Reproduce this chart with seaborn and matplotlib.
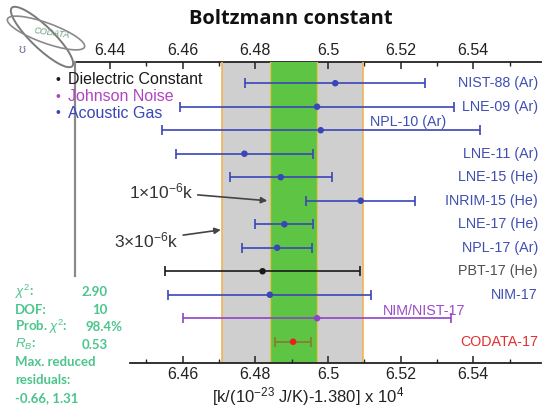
"""Boltzmann constant determinations vs CODATA-17 (recreated figure)."""

import matplotlib

matplotlib.use("Agg")

import matplotlib.pyplot as plt
import matplotlib.transforms as mtransforms
import numpy as np
import pandas as pd
import seaborn as sns
from matplotlib.patches import Ellipse


# --- data ------------------------------------------------------------------
LABELS = [
    "NIST-88 (Ar)", "LNE-09 (Ar)", "NPL-10 (Ar)", "LNE-11 (Ar)", "LNE-15 (He)",
    "INRIM-15 (He)", "LNE-17 (He)", "NPL-17 (Ar)", "PBT-17 (He)", "NIM-17",
    "NIM/NIST-17", "CODATA-17",
]
VALUES = [6.502, 6.497, 6.498, 6.477, 6.487, 6.509, 6.488, 6.486, 6.482, 6.484, 6.497, 6.4904]
UNCERT = [0.0248, 0.0376, 0.0437, 0.0189, 0.0141, 0.0150, 0.0080, 0.0097, 0.0268, 0.0279, 0.0369, 0.0050]
METHOD = ["Acoustic Gas"] * 8 + ["Dielectric Constant", "Acoustic Gas", "Johnson Noise", "CODATA"]

BAND_1E6 = (6.4841, 6.4970)   # 1x10^-6 k
BAND_3E6 = (6.4709, 6.5097)   # 3x10^-6 k

TOP_TICKS = [6.44, 6.46, 6.48, 6.50, 6.52, 6.54]
TOP_TICK_LABELS = ["6.44", "6.46", "6.48", "6.5", "6.52", "6.54"]
BOTTOM_TICKS = [6.46, 6.48, 6.50, 6.52, 6.54]
BOTTOM_TICK_LABELS = ["6.46", "6.48", "6.5", "6.52", "6.54"]

STATS = [
    (r"$\chi^2$:", "2.90"),
    ("DOF:", "10"),
    (r"Prob. $\chi^2$:", "98.4%"),
    (r"$R_B$:", "0.53"),
]
STATS_NOTE = ["Max. reduced", "residuals:", "-0.66, 1.31"]

LEGEND_ORDER = ["Dielectric Constant", "Johnson Noise", "Acoustic Gas"]

COLORS = {
    "Acoustic Gas": "#3a46b8",
    "Dielectric Constant": "#1a1a1a",
    "Johnson Noise": "#8e44c8",
    "CODATA": "#e82020",
}
BAR_COLORS = {
    "Acoustic Gas": "#3a46b8",
    "Dielectric Constant": "#1a1a1a",
    "Johnson Noise": "#8e44c8",
    "CODATA": "#8a7a30",
}
LABEL_COLORS = {
    "Acoustic Gas": "#3f4fb2",
    "Dielectric Constant": "#505050",
    "Johnson Noise": "#9a4cc8",
    "CODATA": "#e03030",
}
LEGEND_COLORS = {
    "Dielectric Constant": "#1a1a1a",
    "Johnson Noise": "#b044c0",
    "Acoustic Gas": "#3a46b8",
}
STAT_GREEN = "#4cc48c"

FONT = ["Liberation Sans", "DejaVu Sans"]


def main() -> None:
    sns.set_theme(style="white")
    plt.rcParams["font.family"] = FONT
    plt.rcParams["mathtext.fontset"] = "custom"
    plt.rcParams["mathtext.rm"] = "Liberation Sans"
    plt.rcParams["mathtext.it"] = "Liberation Sans:italic"

    df = pd.DataFrame({"label": LABELS, "value": VALUES, "unc": UNCERT, "method": METHOD})
    df["row"] = np.arange(len(df))

    fig = plt.figure(figsize=(5.44, 4.11), dpi=100)
    ax = fig.add_axes([0.138, 0.117, 0.857, 0.732])
    ax.set_xlim(6.4304, 6.5587)
    ax.set_ylim(11.9, -0.9)

    # uncertainty bands
    ax.axvspan(*BAND_3E6, color="#cfcfcf", zorder=0, lw=0)
    ax.axvspan(*BAND_1E6, color="#5ec443", zorder=0.5, lw=0)
    for x in BAND_3E6:
        ax.axvline(x, color="#f0b452", lw=1.2, zorder=0.6)
    for x in BAND_1E6:
        ax.axvline(x, color="#e2c25a", lw=1.0, zorder=0.6)

    # error bars
    for _, r in df.iterrows():
        ax.errorbar(r["value"], r["row"], xerr=r["unc"], fmt="none",
                    ecolor=BAR_COLORS[r["method"]], elinewidth=1.2,
                    capsize=3.3, capthick=1.2, zorder=2)
    sns.scatterplot(data=df, x="value", y="row", hue="method", palette=COLORS,
                    s=22, edgecolor="none", legend=False, zorder=3, ax=ax)

    # labels at right
    trans = mtransforms.blended_transform_factory(ax.transAxes, ax.transData)
    for _, r in df.iterrows():
        color = LABEL_COLORS[r["method"]]
        if r["label"] == "NPL-10 (Ar)":
            ax.text(0.633, r["row"] - 0.36, r["label"], transform=trans, ha="left",
                    va="center", color=color, fontsize=10.3)
        elif r["label"] == "NIM/NIST-17":
            ax.text(0.661, r["row"] - 0.32, r["label"], transform=trans, ha="left",
                    va="center", color=color, fontsize=10.3)
        else:
            ax.text(0.993, r["row"], r["label"], transform=trans, ha="right",
                    va="center", color=color, fontsize=10.3)

    # axes styling
    ax.set_ylabel("")
    ax.set_yticks([])
    ax.spines["right"].set_visible(False)
    ax.spines["top"].set_visible(False)
    ax.spines["left"].set_color("#8a8a8a")
    ax.spines["left"].set_linewidth(1.6)
    ax.spines["left"].set_bounds(-0.9, 8.2)
    ax.spines["bottom"].set_color("#222222")
    ax.spines["bottom"].set_linewidth(1.3)
    ax.spines["bottom"].set_bounds(6.4455, 6.5587)

    ax.set_xticks(BOTTOM_TICKS, BOTTOM_TICK_LABELS)
    ax.set_xticks([6.45, 6.47, 6.49, 6.51, 6.53, 6.55], minor=True)
    ax.tick_params(axis="x", which="major", direction="in", length=5, width=1.1,
                   color="#222222", labelsize=11.5, pad=3, bottom=True, labelcolor="#222222")
    ax.tick_params(axis="x", which="minor", direction="in", length=3, width=1.0,
                   color="#222222", bottom=True)
    ax.set_xlabel("[k/(10$^{-23}$ J/K)-1.380] x 10$^{4}$", fontsize=12, labelpad=2,
                  color="#222222")

    sec = ax.secondary_xaxis("top")
    sec.set_xticks(TOP_TICKS, TOP_TICK_LABELS)
    sec.set_xticks([6.43, 6.45, 6.47, 6.49, 6.51, 6.53, 6.55], minor=True)
    sec.tick_params(axis="x", which="major", direction="in", length=5, width=1.1,
                    color="#222222", labelsize=11.5, pad=3, labelcolor="#222222")
    sec.tick_params(axis="x", which="minor", direction="in", length=3, width=1.0,
                    color="#222222")
    sec.spines["top"].set_color("#222222")
    sec.spines["top"].set_linewidth(1.3)

    # annotations
    ax.annotate(r"1$\times$10$^{-6}$k", xy=(6.4833, 5.0), xytext=(6.4540, 4.62),
                ha="center", va="center", fontsize=12.5, color="#333333",
                arrowprops=dict(arrowstyle="-|>", color="#444444", lw=1.2,
                                mutation_scale=9, shrinkA=1, shrinkB=0))
    ax.annotate(r"3$\times$10$^{-6}$k", xy=(6.4705, 6.24), xytext=(6.4500, 6.68),
                ha="center", va="center", fontsize=12.5, color="#333333",
                arrowprops=dict(arrowstyle="-|>", color="#444444", lw=1.2,
                                mutation_scale=9, shrinkA=1, shrinkB=0))

    # legend as coloured bullet rows
    W, H = 544.0, 411.0
    for i, name in enumerate(LEGEND_ORDER):
        y = 1 - (80 + 16.5 * i) / H
        fig.text(58 / W, y, "\u2022", color=LEGEND_COLORS[name], fontsize=10,
                 ha="center", va="center")
        fig.text(68 / W, y, name, color=LEGEND_COLORS[name], fontsize=11.5,
                 ha="left", va="center")

    # title
    fig.text(0.535, 1 - 19 / H, "Boltzmann constant", fontsize=14.5, fontweight="bold",
             family=["Open Sans", "DejaVu Sans"], ha="center", va="center", color="#111111")

    # fit statistics
    stat_font = ["Lato", "DejaVu Sans"]
    for i, (name, val) in enumerate(STATS):
        y = 1 - (292 + 17.6 * i) / H
        fig.text(15 / W, y, name, color=STAT_GREEN, fontsize=9.5, family=stat_font,
                 fontweight="bold", ha="left", va="center")
        right = 123 if val.endswith("%") else 108
        fig.text(right / W, y, val, color=STAT_GREEN, fontsize=9.5, family=stat_font,
                 fontweight="bold", ha="right", va="center")
    for j, line in enumerate(STATS_NOTE):
        y = 1 - (292 + 17.6 * (len(STATS) + j)) / H
        fig.text(15 / W, y, line, color=STAT_GREEN, fontsize=9.5, family=stat_font,
                 fontweight="bold", ha="left", va="center")

    # CODATA logo, roughly (positions in pixels -> inches)
    px = fig.dpi_scale_trans

    def at(x, y):
        return (x / 100.0, (H - y) / 100.0)

    e1 = Ellipse(at(42, 37), 0.84, 0.22, angle=-44, fill=False,
                 edgecolor="#7a7a7a", lw=1.4, transform=px)
    e2 = Ellipse(at(46, 33), 0.82, 0.20, angle=-20, fill=False,
                 edgecolor="#8a8a8a", lw=1.2, transform=px)
    fig.add_artist(e1)
    fig.add_artist(e2)
    fig.text(*at(52, 33), "CODATA", fontsize=6.5, style="italic", transform=px,
             color="#6aa080", ha="center", va="center", rotation=-8)
    fig.text(*at(22, 50), "\u028a", fontsize=9, color="#7070a0", transform=px,
             ha="center", va="center")

    fig.savefig("out.png", dpi=100)
    plt.close(fig)


if __name__ == "__main__":
    main()
